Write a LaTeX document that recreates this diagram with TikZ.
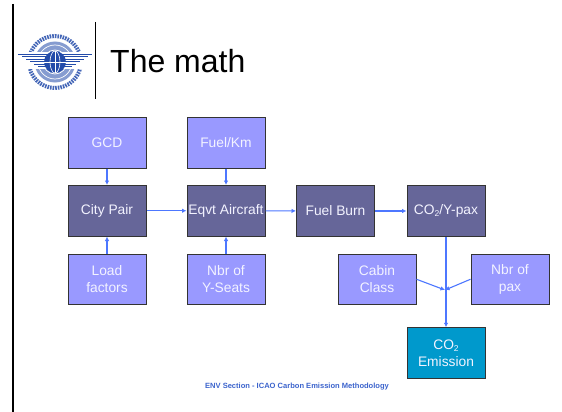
\documentclass[tikz,border=0pt]{standalone}
\usepackage{fontspec}
\setmainfont{Liberation Sans}
\usetikzlibrary{arrows.meta}
\definecolor{lightbox}{RGB}{153,153,255}
\definecolor{darkbox}{RGB}{102,102,153}
\definecolor{tealbox}{RGB}{0,153,204}
\definecolor{linkblue}{RGB}{77,119,255}
\definecolor{logoblue}{RGB}{35,75,170}
\definecolor{footblue}{RGB}{60,100,205}
\newcommand{\subtwo}{\raisebox{-0.32ex}{\fontsize{8.5}{9}\selectfont 2}}
\tikzset{
  basebox/.style={draw=black!80,line width=1pt,minimum width=78pt,minimum height=50.5pt,inner sep=0pt,
    text=white!88!lightbox,font=\fontsize{13.8}{17}\selectfont,align=center},
  inbox/.style={basebox,fill=lightbox},
  procbox/.style={basebox,fill=darkbox},
  outbox/.style={basebox,fill=tealbox},
  link/.style={draw=linkblue,line width=1.1pt,-{Latex[length=4.5pt,width=4.5pt]}},
  logoline/.style={draw=logoblue,line width=1pt},
}
\begin{document}
\begin{tikzpicture}[x=1pt,y=-1pt]
\useasboundingbox (0,0) rectangle (562,412);
\fill[white] (0,0) rectangle (562,412);
% slide rules
\draw[black,line width=2pt] (13,4) -- (13,412);
\draw[black,line width=1.6pt] (95.5,22) -- (95.5,99);
% logo
\draw[logoblue!85,line width=4pt,dash pattern=on 1.6pt off 1pt] (55,62) circle (26);
\fill[logoblue!55] (55,62) circle (20.5);
\draw[white,line width=0.7pt] (55,62) circle (17);
\draw[white,line width=0.7pt] (55,62) circle (12);
\fill[white] (20,52) rectangle (90,69);
\foreach \yy/\xa/\xb in {54.5/18/92,57/22/88,59.5/26/84,62/30/80,64.5/34/76,67/38/72}{
  \draw[logoline] (\xa,\yy) -- (\xb,\yy);
}
\fill[logoblue] (55,62) circle (11);
\draw[white,line width=0.7pt] (55,51) -- (55,73) (44,62) -- (66,62);
\draw[white,line width=0.6pt] (55,62) ellipse (5 and 11);
% nodes
\node[inbox]  (gcd)   at (107,142.75) {GCD};
\node[procbox](city)  at (107,210.75) {City Pair};
\node[inbox]  (load)  at (107,279.25) {Load\\factors};
\node[inbox]  (fuelkm)at (226,142.75) {Fuel/Km};
\node[procbox](eqvt)  at (226,210.75) {Eqvt Aircraft};
\node[inbox]  (seats) at (226,279.25) {Nbr of\\Y-Seats};
\node[procbox](burn)  at (335.5,211)  {Fuel Burn};
\node[procbox](ypax)  at (446,211)    {CO\subtwo/Y-pax};
\node[inbox]  (cabin) at (377,279.25) {Cabin\\Class};
\node[inbox]  (npax)  at (510,279.25) {Nbr of\\pax};
\node[outbox] (emis)  at (446,353)    {CO\subtwo\\Emission};
\coordinate (join) at (445,290);
% connectors
\draw[link] (gcd) -- (city);
\draw[link] (fuelkm) -- (eqvt);
\draw[link] (load) -- (city);
\draw[link] (seats) -- (eqvt);
\draw[link] (city) -- (eqvt);
\draw[link] (eqvt) -- (burn);
\draw[link] (burn) -- (ypax);
\draw[link] (ypax) -- (emis);
\draw[link] (cabin.east) -- (join);
\draw[link] (npax.west) -- (join);
% texts
\node[inner sep=0pt,anchor=base west,font=\fontsize{32}{36}\selectfont] (title) at (110,73) {The math};
\node[inner sep=0pt,anchor=base,text=footblue,font=\fontsize{7.55}{8}\selectfont\bfseries] (foot) at (297,388) {ENV Section - ICAO Carbon Emission Methodology};
\end{tikzpicture}
\end{document}
